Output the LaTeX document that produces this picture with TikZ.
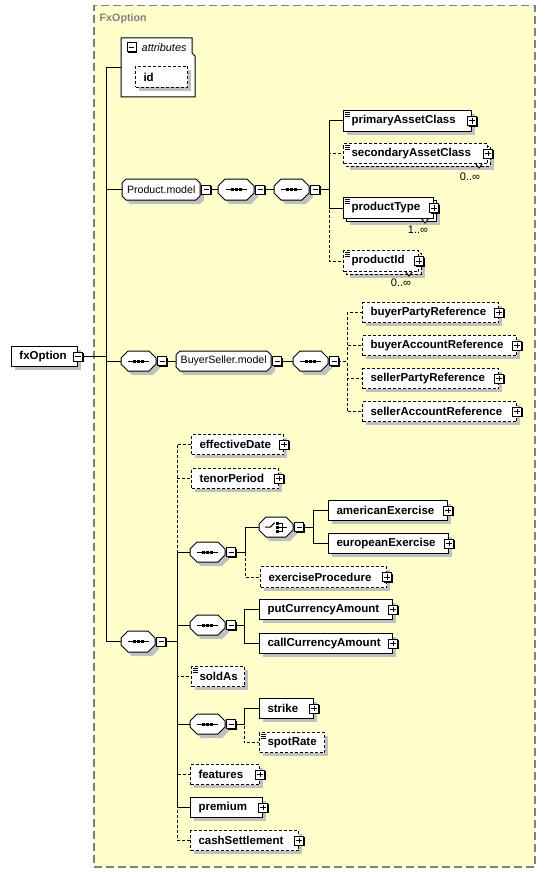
\documentclass[tikz,border=0pt]{standalone}
\usepackage{fontspec}
\setmainfont{Liberation Sans}
\usetikzlibrary{calc}
\pgfdeclarelayer{back}\pgfdeclarelayer{bg}\pgfsetlayers{back,bg,main}
\definecolor{yel}{HTML}{FFFFCC}
\definecolor{shadowc}{HTML}{C0C0C0}
\definecolor{titlec}{HTML}{808080}
\tikzset{
 conn/.style={line width=1pt,black},
 dconn/.style={conn,dash pattern=on 3pt off 2pt},
 opt/.style={dash pattern=on 3pt off 2pt},
 elembox/.style={draw,fill=white,line width=1pt,inner xsep=8pt,inner ysep=0pt,align=left,anchor=north west,font=\fontsize{11.5}{13}\selectfont\bfseries},
 grouptext/.style={font=\fontsize{10.6}{12}\selectfont,inner sep=0pt},
 multtext/.style={font=\fontsize{11}{12}\selectfont,inner sep=0pt},
}
\newcommand\shad[4]{\fill[shadowc] (#1+4,#2+4) rectangle (#3+4,#4+4);}
\newcommand\elemnode[7]{%
 \pgfmathsetmacro\ew{#5-#3}\pgfmathsetmacro\eh{#6-#4}\pgfmathsetmacro\tw{#5-#3-16}%
 \node[elembox,#1,minimum width=\ew pt,minimum height=\eh pt,text width=\tw pt] (#2) at (#3,#4) {#7};}
\newcommand\elem[7]{\shad{#3}{#4}{#5}{#6}\elemnode{#1}{#2}{#3}{#4}{#5}{#6}{#7}}
\newcommand\melem[8]{%
 \fill[shadowc] (#3+7,#4+7) rectangle (#5+7,#6+7);
 \draw[line width=1pt,fill=white,#1] (#3+3,#4+3) rectangle (#5+3,#6+3);
 \draw[line width=1pt,fill=white] (#8-4,#6) -- (#8,#6+5) -- (#8+4,#6);
 \elemnode{#1}{#2}{#3}{#4}{#5}{#6}{#7}}
\newcommand\iconbg[1]{%
 \fill[black] ([shift={(-3.5,-3.5)}]#1) rectangle ([shift={(5.7,5.7)}]#1);
 \draw[line width=1pt,fill=white] ([shift={(-4.5,-4.5)}]#1) rectangle ([shift={(4.5,4.5)}]#1);}
\newcommand\iconplus[1]{\iconbg{#1}\draw[line width=1pt] ([shift={(-2.7,0)}]#1) -- ([shift={(2.7,0)}]#1) ([shift={(0,-2.7)}]#1) -- ([shift={(0,2.7)}]#1);}
\newcommand\iconminus[1]{\iconbg{#1}\draw[line width=1pt] ([shift={(-2.7,0)}]#1) -- ([shift={(2.7,0)}]#1);}
\newcommand\simpleicon[1]{\draw[line width=0.8pt] ([shift={(2,2.5)}]#1.north west) -- +(5,0) ([shift={(2,4.5)}]#1.north west) -- +(5,0) ([shift={(2,6.5)}]#1.north west) -- +(5,0);}
\newcommand\octa[6]{%
 \fill[shadowc] (#2+4+#6,#3+4) -- (#4+4-#6,#3+4) -- (#4+4,#3+4+#6) -- (#4+4,#5+4-#6) -- (#4+4-#6,#5+4) -- (#2+4+#6,#5+4) -- (#2+4,#5+4-#6) -- (#2+4,#3+4+#6) -- cycle;
 \draw[line width=1pt,fill=white] (#2+#6,#3) -- (#4-#6,#3) -- (#4,#3+#6) -- (#4,#5-#6) -- (#4-#6,#5) -- (#2+#6,#5) -- (#2,#5-#6) -- (#2,#3+#6) -- cycle;
 \pgfmathsetmacro\ew{#4-#2}\pgfmathsetmacro\eh{#5-#3}%
 \node[inner sep=0pt,minimum width=\ew pt,minimum height=\eh pt,anchor=north west] (#1) at (#2,#3) {};
 \coordinate (#1-i) at ([xshift=6pt]#1.east);
 \iconminus{#1-i}}
\newcommand\seqicon[1]{%
 \draw[line width=1pt] ([xshift=-10.5pt]#1.center) -- ([xshift=10.5pt]#1.center);
 \fill ([shift={(-5.5,-1.5)}]#1.center) rectangle +(3,3);
 \fill ([shift={(-1.5,-1.5)}]#1.center) rectangle +(3,3);
 \fill ([shift={(2.5,-1.5)}]#1.center) rectangle +(3,3);}
\newcommand\choiceicon[1]{%
 \draw[line width=1pt] ([shift={(-11,0)}]#1.center) -- ([shift={(-6,0)}]#1.center) -- ([shift={(-1.5,-4.5)}]#1.center);
 \fill ([shift={(0,-5.5)}]#1.center) rectangle +(3,3);
 \fill ([shift={(0,-1.5)}]#1.center) rectangle +(3,3);
 \fill ([shift={(0,2.5)}]#1.center) rectangle +(3,3);
 \draw[line width=1pt] ([shift={(3,-4)}]#1.center) -- ([shift={(6,-4)}]#1.center) -- ([shift={(6,4)}]#1.center) -- ([shift={(3,4)}]#1.center)
   ([shift={(3,0)}]#1.center) -- ([shift={(11,0)}]#1.center);}
\begin{document}
\begin{tikzpicture}[x=1pt,y=-1pt]
\useasboundingbox (0,0) rectangle (545,872);
\begin{pgfonlayer}{back}
\fill[white] (0,0) rectangle (545,872);
\node[draw=titlec,fill=yel,line width=1.5pt,dash pattern=on 8pt off 4pt,inner sep=0pt,minimum width=441pt,minimum height=861pt,anchor=north west] (fxbox) at (93,5) {};
\end{pgfonlayer}
\node[anchor=west,text=titlec,font=\fontsize{10.7}{12}\selectfont\bfseries,inner sep=0pt] (title) at (99.5,19) {FxOption};
% root
\elem{}{fx}{11}{346}{77}{366}{fxOption}\iconminus{fx.east}
% attributes
\draw[line width=1pt,fill=white] (121,38) -- (192,38) -- (192,53) -- (195,56) -- (195,97) -- (121,97) -- cycle;
\node[inner sep=0pt,minimum width=74pt,minimum height=59pt,anchor=north west] (attrs) at (121,38) {};
\coordinate (attrs-i) at (131.5,47.5);\iconminus{attrs-i}
\node[anchor=west,inner sep=0pt,font=\fontsize{10.9}{12}\selectfont\itshape] (attrs-t) at (141.5,47.5) {attributes};
\elem{opt}{id}{135}{66}{187}{87}{id}
% Product.model
\octa{pm}{122}{179}{200}{200}{4}\node[grouptext] (pm-t) at (pm.center) {Product.model};
\octa{pma}{218}{179}{254}{200}{7}\seqicon{pma}
\octa{pmb}{274}{179}{309}{200}{7}\seqicon{pmb}
\elem{}{pac}{343}{110}{471}{131}{primaryAssetClass}\simpleicon{pac}\iconplus{pac.east}
\melem{opt}{sac}{343}{143}{487}{163}{secondaryAssetClass}{479}\simpleicon{sac}\iconplus{sac.east}
\node[multtext] (sac-m) at (470,177) {0..∞};
\melem{}{pt}{343}{197}{433}{218}{productType}{425}\simpleicon{pt}\iconplus{pt.east}
\node[multtext] (pt-m) at (418,230) {1..∞};
\melem{opt}{pid}{343}{250}{418}{271}{productId}{409}\simpleicon{pid}\iconplus{pid.east}
\node[multtext] (pid-m) at (401,283) {0..∞};
% BuyerSeller
\octa{bsq}{121}{351}{156}{371}{7}\seqicon{bsq}
\octa{bsm}{176}{351}{271}{371}{4}\node[grouptext] (bsm-t) at (bsm.center) {BuyerSeller.model};
\octa{bss}{293}{351}{328}{371}{7}\seqicon{bss}
\elem{opt}{bpr}{362}{302}{498}{322}{buyerPartyReference}\iconplus{bpr.east}
\elem{opt}{bar}{362}{335}{516}{355}{buyerAccountReference}\iconplus{bar.east}
\elem{opt}{spr}{362}{368}{498}{388}{sellerPartyReference}\iconplus{spr.east}
\elem{opt}{sar}{362}{401}{516}{421}{sellerAccountReference}\iconplus{sar.east}
% main sequence
\octa{mseq}{121}{631}{155}{652}{7}\seqicon{mseq}
\elem{opt}{ed}{191}{434}{283}{454}{effectiveDate}\iconplus{ed.east}
\elem{opt}{tp}{191}{468}{278}{488}{tenorPeriod}\iconplus{tp.east}
\octa{exq}{190}{542}{225}{562}{7}\seqicon{exq}
\octa{ch}{259}{517}{293}{537}{7}\choiceicon{ch}
\elem{}{ae}{328}{500}{447}{520}{americanExercise}\iconplus{ae.east}
\elem{}{ee}{328}{533}{448}{553}{europeanExercise}\iconplus{ee.east}
\elem{opt}{ep}{260}{566}{386}{587}{exerciseProcedure}\iconplus{ep.east}
\octa{ccq}{190}{615}{225}{635}{7}\seqicon{ccq}
\elem{}{pca}{259}{599}{392}{619}{putCurrencyAmount}\iconplus{pca.east}
\elem{}{cca}{259}{633}{392}{653}{callCurrencyAmount}\iconplus{cca.east}
\elem{opt}{sold}{191}{666}{244}{686}{soldAs}\simpleicon{sold}
\octa{stq}{190}{714}{225}{734}{7}\seqicon{stq}
\elem{}{strike}{259}{698}{313}{718}{strike}\iconplus{strike.east}
\elem{opt}{spot}{259}{732}{324}{752}{spotRate}\simpleicon{spot}
\elem{opt}{feat}{190}{764}{259}{784}{features}\iconplus{feat.east}
\elem{}{prem}{190}{797}{262}{817}{premium}\iconplus{prem.east}
\elem{opt}{cash}{190}{830}{298}{850}{cashSettlement}\iconplus{cash.east}
% connectors
\begin{pgfonlayer}{bg}
\draw[conn] ([xshift=6pt]fx.east) -| ([xshift=-15pt]attrs.west) -- (attrs.west);
\draw[conn] ([xshift=6pt]fx.east) -| ([xshift=-16pt]pm.west) -- (pm.west);
\draw[conn] ([xshift=6pt]fx.east) -| ([xshift=-15pt]bsq.west) -- (bsq.west);
\draw[conn] ([xshift=6pt]fx.east) -| ([xshift=-15pt]mseq.west) -- (mseq.west);
\draw[conn] (pm.east) -- (pma.west);
\draw[conn] (pma.east) -- (pmb.west);
\draw[conn] (pmb.east) -| ([xshift=-14pt]pac.west) -- (pac.west);
\draw[dconn] (pmb.east) -| ([xshift=-14pt]sac.west) -- (sac.west);
\draw[conn] (pmb.east) -| ([xshift=-14pt]pt.west) -- (pt.west);
\draw[dconn] (pmb.east) -| ([xshift=-14pt]pid.west) -- (pid.west);
\draw[conn] (bsq.east) -- (bsm.west);
\draw[conn] (bsm.east) -- (bss.west);
\draw[dconn] (bss.east) -| ([xshift=-15pt]bpr.west) -- (bpr.west);
\draw[dconn] (bss.east) -| ([xshift=-15pt]bar.west) -- (bar.west);
\draw[dconn] (bss.east) -| ([xshift=-15pt]spr.west) -- (spr.west);
\draw[dconn] (bss.east) -| ([xshift=-15pt]sar.west) -- (sar.west);
\draw[dconn] (mseq.east) -| ([xshift=-14pt]ed.west) -- (ed.west);
\draw[dconn] (mseq.east) -| ([xshift=-14pt]tp.west) -- (tp.west);
\draw[conn] (mseq.east) -| ([xshift=-13pt]exq.west) -- (exq.west);
\draw[conn] (mseq.east) -| ([xshift=-13pt]ccq.west) -- (ccq.west);
\draw[dconn] (mseq.east) -| ([xshift=-14pt]sold.west) -- (sold.west);
\draw[conn] (mseq.east) -| ([xshift=-13pt]stq.west) -- (stq.west);
\draw[dconn] (mseq.east) -| ([xshift=-13pt]feat.west) -- (feat.west);
\draw[conn] (mseq.east) -| ([xshift=-13pt]prem.west) -- (prem.west);
\draw[dconn] (mseq.east) -| ([xshift=-13pt]cash.west) -- (cash.west);
\draw[conn] (exq.east) -| ([xshift=-14pt]ch.west) -- (ch.west);
\draw[dconn] (exq.east) -| ([xshift=-15pt]ep.west) -- (ep.west);
\draw[conn] (ch.east) -| ([xshift=-15pt]ae.west) -- (ae.west);
\draw[conn] (ch.east) -| ([xshift=-15pt]ee.west) -- (ee.west);
\draw[conn] (ccq.east) -| ([xshift=-15pt]pca.west) -- (pca.west);
\draw[conn] (ccq.east) -| ([xshift=-15pt]cca.west) -- (cca.west);
\draw[conn] (stq.east) -| ([xshift=-15pt]strike.west) -- (strike.west);
\draw[dconn] (stq.east) -| ([xshift=-15pt]spot.west) -- (spot.west);
\end{pgfonlayer}
\end{tikzpicture}
\end{document}
